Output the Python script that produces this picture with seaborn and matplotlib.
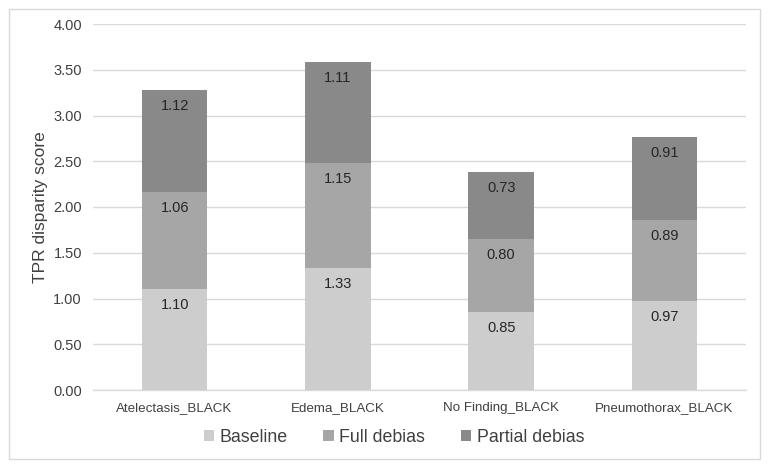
import matplotlib
matplotlib.use("Agg")
import matplotlib.pyplot as plt
import seaborn as sns
import pandas as pd
from matplotlib.patches import Rectangle

categories = ["Atelectasis_BLACK", "Edema_BLACK", "No Finding_BLACK", "Pneumothorax_BLACK"]
baseline = [1.10, 1.33, 0.85, 0.97]
full_debias = [1.06, 1.15, 0.80, 0.89]
partial_debias = [1.12, 1.11, 0.73, 0.91]
series_names = ["Baseline", "Full debias", "Partial debias"]
colors = ["#cdcdcd", "#a6a6a6", "#898989"]
y_ticks = [0.0, 0.5, 1.0, 1.5, 2.0, 2.5, 3.0, 3.5, 4.0]

sns.set_theme(style="white")
plt.rcParams["font.family"] = ["Liberation Sans", "DejaVu Sans"]
text_color = "#404040"

fig = plt.figure(figsize=(7.73, 4.74), dpi=100)
ax = fig.add_axes([93 / 773, 1 - 390 / 474, (746 - 93) / 773, (390 - 24) / 474])

# gray frame around the whole chart
fig.patches.append(Rectangle((9 / 773, 1 - 459 / 474), (760 - 9) / 773, (459 - 9) / 474,
                             transform=fig.transFigure, fill=False,
                             edgecolor="#d9d9d9", linewidth=1.0))

df = pd.DataFrame({"category": categories, "Baseline": baseline,
                   "Full debias": full_debias, "Partial debias": partial_debias})

bottom = [0.0] * len(categories)
for name, color in zip(series_names, colors):
    vals = df[name].tolist()
    sns.barplot(data=df, x="category", y=name, color=color, width=0.4,
                bottom=bottom, errorbar=None, ax=ax, label=name,
                linewidth=0, zorder=3)
    for i, v in enumerate(vals):
        ax.annotate(f"{v:.2f}", (i, bottom[i] + v), xytext=(0, -6.5),
                    textcoords="offset points", ha="center", va="top",
                    fontsize=10.5, color="#262626", zorder=4)
    bottom = [b + v for b, v in zip(bottom, vals)]

ax.set_xlim(-0.5, len(categories) - 0.5)
ax.set_ylim(0, 4.0)
ax.set_yticks(y_ticks)
ax.set_yticklabels([f"{t:.2f}" for t in y_ticks])
ax.yaxis.grid(True, color="#d9d9d9", linewidth=1.0, zorder=0)
ax.set_axisbelow(True)
for s in ["top", "right", "left"]:
    ax.spines[s].set_visible(False)
ax.spines["bottom"].set_color("#d9d9d9")
ax.spines["bottom"].set_linewidth(1.0)
ax.tick_params(axis="both", length=0, colors=text_color)
ax.tick_params(axis="y", pad=8, labelsize=10.5)
ax.tick_params(axis="x", pad=9, labelsize=9.6)
ax.set_xlabel("")
ax.set_ylabel("TPR disparity score", fontsize=12.5, color=text_color, labelpad=4)

handles, labels = ax.get_legend_handles_labels()
if ax.get_legend() is not None:
    ax.get_legend().remove()
fig.legend(handles, labels, loc="center", bbox_to_anchor=(394 / 773, 1 - 437 / 474),
           ncol=3, frameon=False, fontsize=12.8, handlelength=0.6, handleheight=0.6,
           handletextpad=0.3, columnspacing=2.0, labelcolor=text_color)

fig.savefig("out.png", dpi=100, facecolor="white")
